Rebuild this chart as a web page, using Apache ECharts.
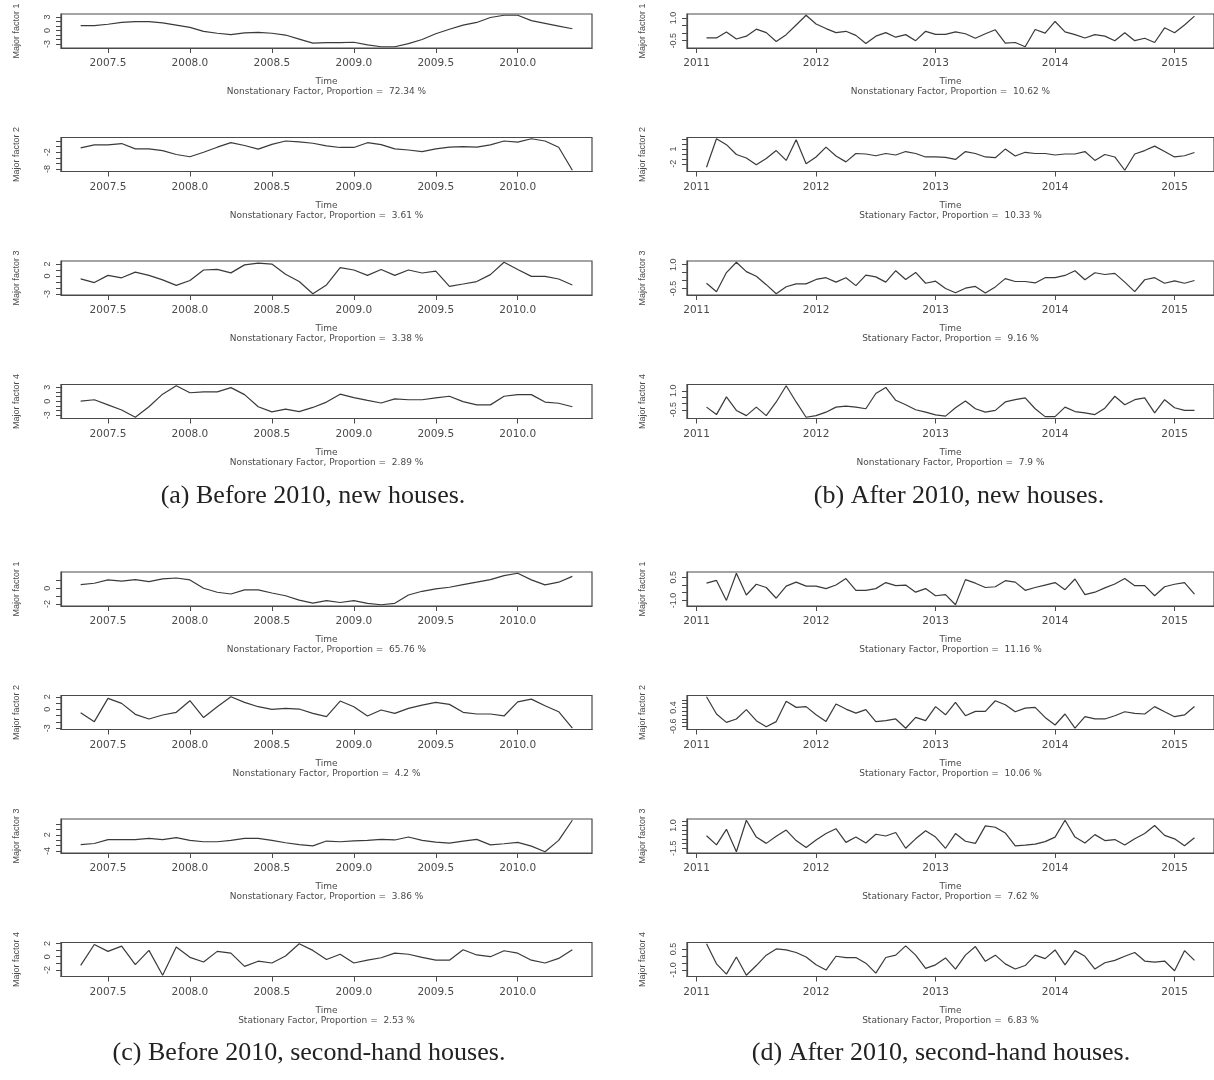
<!DOCTYPE html>
<html>
<head>
<meta charset="utf-8">
<script src="https://cdn.jsdelivr.net/npm/echarts@6/dist/echarts.min.js"></script>
<style>
  html, body { margin: 0; background: #fff; }
  #chart { width: 1214px; height: 1080px; }
</style>
</head>
<body>
<div id="chart"></div>
<script>
// monthly series, like R ts objects
var startBefore = 2007 + 4 / 12;   // May 2007
var startAfter = 2011 + 1 / 12;    // Feb 2011

var beforeNew1 = [1.1,1.1,1.4,1.8,2.0,2.0,1.7,1.2,0.7,-0.2,-0.6,-0.9,-0.5,-0.4,-0.6,-1.0,-1.9,-2.8,-2.7,-2.7,-2.6,-3.2,-3.6,-3.6,-2.9,-2.0,-0.7,0.3,1.2,1.8,2.9,3.4,3.4,2.2,1.6,1.0,0.4];
var beforeNew2 = [-0.44,0.64,0.64,1.1,-0.8,-0.8,-1.4,-2.8,-3.6,-2.0,-0.2,1.4,0.4,-0.9,0.8,2.0,1.7,1.2,0.3,-0.3,-0.3,1.4,0.7,-0.8,-1.2,-1.8,-0.8,-0.2,0.0,-0.2,0.6,2.0,1.6,2.8,2.0,-0.2,-8.4];
var beforeNew3 = [-0.47,-1.1,0.1,-0.3,0.64,0.1,-0.64,-1.57,-0.75,1.0,1.1,0.52,1.86,2.15,2.0,0.3,-0.93,-2.97,-1.5,1.4,1.0,0.1,1.1,0.1,1.0,0.5,0.8,-1.74,-1.34,-0.93,0.23,2.3,1.1,-0.06,-0.06,-0.5,-1.5];
var beforeNew4 = [0,0.3,-0.8,-1.9,-3.45,-1.2,1.5,3.3,1.8,2.0,2.0,2.9,1.4,-1.2,-2.3,-1.7,-2.25,-1.35,-0.2,1.5,0.75,0.15,-0.4,0.5,0.3,0.3,0.7,1.05,-0.1,-0.8,-0.8,1.05,1.4,1.4,-0.2,-0.45,-1.2];

var afterNew1 = [-0.32,-0.32,0.08,-0.39,-0.2,0.26,0.03,-0.55,-0.1,0.54,1.18,0.6,0.3,0.03,0.12,-0.15,-0.68,-0.2,0.03,-0.27,-0.1,-0.5,0.12,-0.08,-0.08,0.08,-0.04,-0.34,-0.04,0.22,-0.66,-0.62,-0.9,0.24,0.0,0.77,0.08,-0.1,-0.32,-0.1,-0.2,-0.5,0.03,-0.5,-0.34,-0.62,0.35,0.03,0.54,1.12];
var afterNew2 = [-2.7,3.1,1.9,-0.1,-0.8,-2.2,-0.9,0.7,-1.3,2.9,-2.0,-0.6,1.4,-0.4,-1.6,0.1,0.0,-0.35,0.1,-0.2,0.5,0.1,-0.6,-0.6,-0.7,-1.1,0.5,0.1,-0.6,-0.75,1.0,-0.4,0.35,0.1,0.1,-0.2,0.0,0.0,0.5,-1.3,-0.1,-0.6,-3.3,0.0,0.7,1.6,0.5,-0.6,-0.35,0.3];
var afterNew3 = [-0.17,-0.7,0.5,1.15,0.56,0.27,-0.26,-0.83,-0.39,-0.21,-0.21,0.07,0.18,-0.1,0.18,-0.32,0.34,0.23,-0.1,0.62,0.07,0.51,-0.17,-0.04,-0.5,-0.77,-0.48,-0.37,-0.78,-0.4,0.12,-0.06,-0.06,-0.15,0.18,0.18,0.32,0.62,0.05,0.49,0.38,0.45,-0.1,-0.7,0.05,0.18,-0.17,-0.02,-0.17,0.0];
var afterNew4 = [-0.29,-0.88,0.52,-0.55,-0.96,-0.29,-0.96,0.12,1.4,0.12,-1.09,-0.96,-0.69,-0.29,-0.21,-0.29,-0.42,0.79,1.27,0.25,-0.1,-0.5,-0.69,-0.9,-1.0,-0.34,0.2,-0.42,-0.69,-0.55,0.12,0.3,0.44,-0.42,-1.04,-1.04,-0.29,-0.64,-0.74,-0.88,-0.37,0.57,-0.1,0.3,0.44,-0.74,0.3,-0.34,-0.55,-0.55];

var beforeSecond1 = [0.47,0.64,1.06,0.9,1.1,0.85,1.2,1.3,1.06,0,-0.5,-0.72,-0.2,-0.2,-0.6,-0.94,-1.5,-1.87,-1.57,-1.8,-1.57,-1.9,-2.08,-1.9,-0.85,-0.38,-0.08,0.13,0.47,0.77,1.1,1.6,1.9,1.06,0.43,0.77,1.5];
var beforeSecond2 = [-0.53,-1.95,1.74,0.95,-0.79,-1.53,-0.9,-0.47,1.37,-1.3,0.42,2.0,1.1,0.42,0,0.16,0.05,-0.63,-1.16,1.32,0.42,-1.05,-0.1,-0.63,0.16,0.68,1.1,0.79,-0.47,-0.74,-0.74,-1.05,1.2,1.63,0.58,-0.37,-3.0];
var beforeSecond3 = [-1.6,-1.2,0.2,0.2,0.2,0.7,0.2,1.0,-0.05,-0.56,-0.56,-0.05,0.7,0.7,-0.05,-0.94,-1.6,-2.1,-0.3,-0.56,-0.2,-0.05,0.3,0.1,1.2,-0.05,-0.7,-1.1,-0.3,0.3,-1.7,-1.3,-0.8,-2.2,-4.26,-0.05,7.4];
var beforeSecond4 = [-1.3,1.84,0.8,1.6,-1.2,0.95,-2.8,1.47,-0.1,-0.8,0.8,0.53,-1.47,-0.68,-0.95,0.1,1.95,0.95,-0.42,0.37,-0.95,-0.53,-0.16,0.53,0.37,-0.1,-0.53,-0.53,1.05,0.26,0,0.9,0.53,-0.53,-0.95,-0.26,1.05];

var afterSecond1 = [0.11,0.29,-1.0,0.75,-0.65,0.04,-0.17,-0.86,-0.08,0.18,-0.08,-0.08,-0.24,-0.01,0.41,-0.35,-0.35,-0.24,0.15,-0.05,-0.01,-0.47,-0.24,-0.7,-0.63,-1.28,0.34,0.11,-0.17,-0.12,0.27,0.18,-0.35,-0.17,-0.01,0.15,-0.31,0.38,-0.63,-0.47,-0.19,0.06,0.41,-0.05,-0.05,-0.7,-0.12,0.04,0.15,-0.59];
var afterSecond2 = [0.96,0.05,-0.39,-0.21,0.28,-0.3,-0.62,-0.35,0.72,0.4,0.44,0.01,-0.34,0.58,0.31,0.1,0.28,-0.35,-0.3,-0.21,-0.7,-0.13,-0.3,0.44,0.01,0.66,-0.04,0.19,0.19,0.75,0.54,0.17,0.36,0.4,-0.13,-0.53,0.05,-0.69,-0.09,-0.21,-0.21,-0.04,0.17,0.08,0.05,0.44,0.17,-0.09,0.0,0.45];
var afterSecond3 = [-0.12,-1.12,0.58,-1.88,1.58,-0.27,-0.96,-0.19,0.5,-0.65,-1.42,-0.58,0.12,0.65,-0.85,-0.27,-0.92,0.04,-0.15,0.23,-1.5,-0.46,0.42,-0.27,-1.5,0.12,-0.73,-0.96,0.96,0.81,0.19,-1.23,-1.15,-1.04,-0.77,-0.27,1.58,-0.27,-0.92,0.0,-0.65,-0.54,-1.15,-0.46,0.12,1.0,-0.08,-0.46,-1.23,-0.35];
var afterSecond4 = [0.87,-0.56,-1.29,-0.07,-1.37,-0.68,0.06,0.5,0.43,0.25,-0.07,-0.63,-1.0,-0.02,-0.11,-0.11,-0.51,-1.22,-0.11,0.06,0.72,0.06,-0.88,-0.63,-0.14,-0.93,0.06,0.67,-0.38,0.06,-0.56,-0.93,-0.68,0.06,-0.19,0.43,-0.63,0.38,-0.02,-0.93,-0.48,-0.31,-0.02,0.25,-0.36,-0.43,-0.36,-1.05,0.38,-0.31];

// tick labels
var xTicksBefore = [2007.5, 2008.0, 2008.5, 2009.0, 2009.5, 2010.0];
var xTicksAfter = [2011, 2012, 2013, 2014, 2015];

var subtitles = [
  'Nonstationary Factor, Proportion =  72.34 %', 'Nonstationary Factor, Proportion =  3.61 %',
  'Nonstationary Factor, Proportion =  3.38 %', 'Nonstationary Factor, Proportion =  2.89 %',
  'Nonstationary Factor, Proportion =  10.62 %', 'Stationary Factor, Proportion =  10.33 %',
  'Stationary Factor, Proportion =  9.16 %', 'Nonstationary Factor, Proportion =  7.9 %',
  'Nonstationary Factor, Proportion =  65.76 %', 'Nonstationary Factor, Proportion =  4.2 %',
  'Nonstationary Factor, Proportion =  3.86 %', 'Stationary Factor, Proportion =  2.53 %',
  'Stationary Factor, Proportion =  11.16 %', 'Stationary Factor, Proportion =  10.06 %',
  'Stationary Factor, Proportion =  7.62 %', 'Stationary Factor, Proportion =  6.83 %'
];
var captions = ['(a) Before 2010, new houses.', '(b) After 2010, new houses.',
  '(c) Before 2010, second-hand houses.', '(d) After 2010, second-hand houses.'];

// panel, data, y ticks, labelled y ticks, decimals
var plots = [
  {p: 0, vals: beforeNew1, yTicks: [-3,-2,-1,0,1,2,3], yLab: [-3,0,3], dec: 0},
  {p: 0, vals: beforeNew2, yTicks: [-8,-6,-4,-2,0,2], yLab: [-8,-2], dec: 0},
  {p: 0, vals: beforeNew3, yTicks: [-3,-2,-1,0,1,2], yLab: [-3,0,2], dec: 0},
  {p: 0, vals: beforeNew4, yTicks: [-3,-2,-1,0,1,2,3], yLab: [-3,0,3], dec: 0},
  {p: 1, vals: afterNew1, yTicks: [-0.5,0,0.5,1.0], yLab: [-0.5,1.0], dec: 1},
  {p: 1, vals: afterNew2, yTicks: [-2,-1,0,1,2,3], yLab: [-2,1], dec: 0},
  {p: 1, vals: afterNew3, yTicks: [-0.5,0,0.5,1.0], yLab: [-0.5,1.0], dec: 1},
  {p: 1, vals: afterNew4, yTicks: [-0.5,0,0.5,1.0], yLab: [-0.5,1.0], dec: 1},
  {p: 2, vals: beforeSecond1, yTicks: [-2,-1,0,1], yLab: [-2,0], dec: 0},
  {p: 2, vals: beforeSecond2, yTicks: [-3,-2,-1,0,1,2], yLab: [-3,0,2], dec: 0},
  {p: 2, vals: beforeSecond3, yTicks: [-4,-2,0,2,4,6,8], yLab: [-4,2,8], dec: 0},
  {p: 2, vals: beforeSecond4, yTicks: [-2,-1,0,1,2], yLab: [-2,0,2], dec: 0},
  {p: 3, vals: afterSecond1, yTicks: [-1.0,-0.5,0,0.5], yLab: [-1.0,0.5], dec: 1},
  {p: 3, vals: afterSecond2, yTicks: [-0.6,-0.4,-0.2,0,0.2,0.4,0.6,0.8], yLab: [-0.6,0.4], dec: 1},
  {p: 3, vals: afterSecond3, yTicks: [-1.5,-1.0,-0.5,0,0.5,1.0,1.5], yLab: [-1.5,1.0], dec: 1},
  {p: 3, vals: afterSecond4, yTicks: [-1.0,-0.5,0,0.5], yLab: [-1.0,0.5], dec: 1}
];

var rowTops = [14, 137.5, 261, 384.5];
var panelShift = 558;
var boxH = 34, boxW = 531;
var colLeft = [61, 687];
var sans = '"DejaVu Sans", sans-serif';
var narrow = '"Liberation Sans", Arial, sans-serif';

var grids = [], xAxes = [], yAxes = [], series = [], titles = [];

plots.forEach(function (pl, i) {
  var before = pl.p % 2 === 0;
  var start = before ? startBefore : startAfter;
  var row = i % 4;
  var top = rowTops[row] + (pl.p >= 2 ? panelShift : 0);
  var left = colLeft[before ? 0 : 1];

  var data = pl.vals.map(function (v, k) { return [start + k / 12, v]; });
  // R style axis limits: data range widened by 4%
  var t0 = data[0][0], t1 = data[data.length - 1][0];
  var lo = Math.min.apply(null, pl.vals), hi = Math.max.apply(null, pl.vals);
  var ymin = lo - 0.04 * (hi - lo), ymax = hi + 0.04 * (hi - lo);
  var xmin = t0 - 0.04 * (t1 - t0), xmax = t1 + 0.04 * (t1 - t0);
  var inY = function (v) { return v >= ymin - 1e-9 && v <= ymax + 1e-9; };

  grids.push({left: left, top: top, width: boxW, height: boxH, show: true,
    borderColor: '#4a4a4a', borderWidth: 1.2, backgroundColor: 'transparent'});

  var xt = before ? xTicksBefore : xTicksAfter;
  xAxes.push({
    gridIndex: i, type: 'value', min: xmin, max: xmax,
    axisLine: {show: true, onZero: false, lineStyle: {color: '#4a4a4a', width: 1.2}},
    axisTick: {show: true, length: 5, customValues: xt, lineStyle: {color: '#4a4a4a'}},
    axisLabel: {customValues: xt, margin: 10, color: '#4a4a4a', fontFamily: sans, fontSize: 10.5,
      formatter: function (v) { return before ? v.toFixed(1) : String(Math.round(v)); }},
    splitLine: {show: false},
    name: 'Time\n' + subtitles[i], nameLocation: 'middle', nameGap: 29,
    nameTextStyle: {color: '#4a4a4a', fontFamily: sans, fontSize: 9, lineHeight: 10}
  });

  yAxes.push({
    gridIndex: i, type: 'value', min: ymin, max: ymax,
    axisLine: {show: true, onZero: false, lineStyle: {color: '#4a4a4a', width: 1.2}},
    axisTick: {show: true, length: 5, customValues: pl.yTicks.filter(inY), lineStyle: {color: '#4a4a4a'}},
    axisLabel: {customValues: pl.yLab.filter(inY), rotate: 90, margin: 9, color: '#4a4a4a',
      fontFamily: narrow, fontSize: 9,
      formatter: function (v) { return v.toFixed(pl.dec); }},
    splitLine: {show: false},
    name: 'Major factor ' + (row + 1), nameLocation: 'middle', nameRotate: 90, nameGap: 40,
    nameTextStyle: {color: '#4a4a4a', fontFamily: narrow, fontSize: 9}
  });

  series.push({
    type: 'line', xAxisIndex: i, yAxisIndex: i, data: data,
    showSymbol: false, symbol: 'none',
    lineStyle: {color: '#3a3a3a', width: 1.2}
  });
});

var capPos = [[308, 478], [954, 478], [304, 1035], [936, 1035]];
captions.forEach(function (c, j) {
  titles.push({text: c, left: capPos[j][0], top: capPos[j][1], textAlign: 'center',
    textStyle: {fontFamily: '"Liberation Serif", "DejaVu Serif", serif', fontSize: 26,
      fontWeight: 'normal', color: '#222'}});
});

var myChart = echarts.init(document.getElementById('chart'));
myChart.setOption({
  animation: false,
  backgroundColor: '#fff',
  title: titles,
  grid: grids,
  xAxis: xAxes,
  yAxis: yAxes,
  series: series
});
</script>
</body>
</html>
